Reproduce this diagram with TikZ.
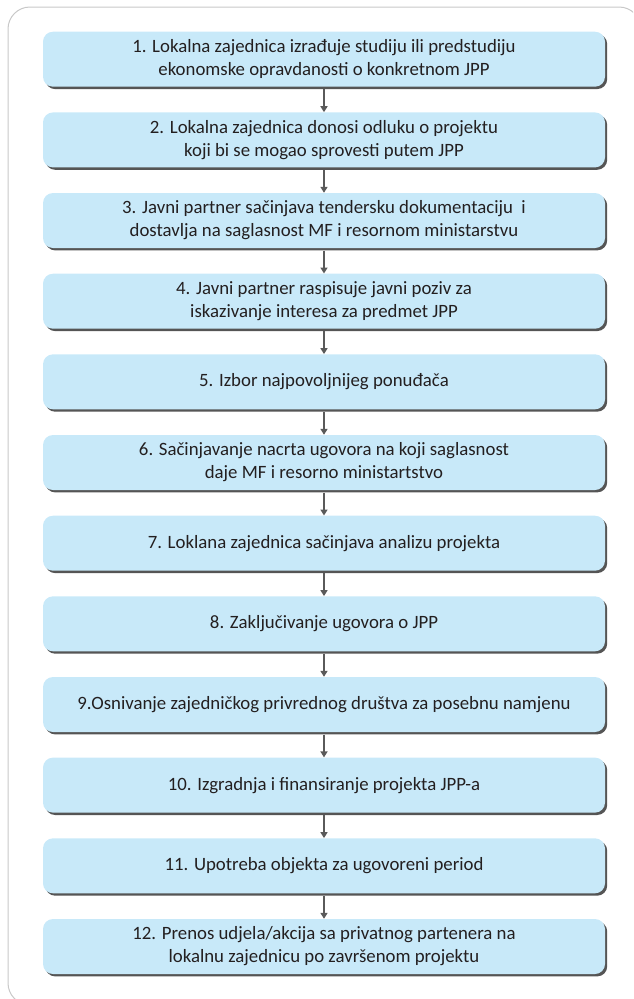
\documentclass[tikz,border=0pt]{standalone}
\usepackage{fontspec}
\setmainfont{Carlito}
\usetikzlibrary{arrows.meta,shadows}
\definecolor{boxfill}{RGB}{200,233,249}
\definecolor{shadowgray}{RGB}{85,85,85}
\definecolor{arrowgray}{RGB}{90,90,90}
\definecolor{txt}{RGB}{35,31,32}
\definecolor{framegray}{RGB}{200,200,200}
\tikzset{
  stepbox/.style={draw=none, fill=boxfill, rounded corners=10pt,
    minimum width=562pt, minimum height=55pt, inner sep=0pt,
    align=center, text=txt, font=\fontsize{18.8}{23}\selectfont,
    drop shadow={shadow xshift=2.2pt, shadow yshift=-2.4pt, fill=shadowgray, opacity=1}},
  flow/.style={draw=arrowgray, line width=2pt, -{Triangle[width=7pt,length=6pt]}}
}
\begin{document}
\begin{tikzpicture}[x=1pt,y=-1pt]
\useasboundingbox (0,0) rectangle (633,999);
\begin{scope}
\clip (0,0) rectangle (633,999);
\draw[framegray, line width=1pt, rounded corners=22pt] (8,7) rectangle (641,1005);
\end{scope}
\node[stepbox] (b1) at (324,59.2) {1. Lokalna zajednica izrađuje studiju ili predstudiju\\ekonomske opravdanosti o konkretnom JPP};
\node[stepbox] (b2) at (324,139.9) {2. Lokalna zajednica donosi odluku o projektu\\koji bi se mogao sprovesti putem JPP};
\node[stepbox] (b3) at (324,220.5) {3. Javni partner sačinjava tendersku dokumentaciju\ \ i\\dostavlja na saglasnost MF i resornom ministarstvu};
\node[stepbox] (b4) at (324,301.2) {4. Javni partner raspisuje javni poziv za\\iskazivanje interesa za predmet JPP};
\node[stepbox] (b5) at (324,381.8) {5. Izbor najpovoljnijeg ponuđača};
\node[stepbox] (b6) at (324,462.5) {6. Sačinjavanje nacrta ugovora na koji saglasnost\\daje MF i resorno ministartstvo};
\node[stepbox] (b7) at (324,543.2) {7. Loklana zajednica sačinjava analizu projekta};
\node[stepbox] (b8) at (324,623.8) {8. Zaključivanje ugovora o JPP};
\node[stepbox] (b9) at (324,704.5) {9.Osnivanje zajedničkog privrednog društva za posebnu namjenu};
\node[stepbox] (b10) at (324,785.1) {10. Izgradnja i finansiranje projekta JPP-a};
\node[stepbox] (b11) at (324,865.8) {11. Upotreba objekta za ugovoreni period};
\node[stepbox] (b12) at (324,946.5) {12. Prenos udjela/akcija sa privatnog partenera na\\lokalnu zajednicu po završenom projektu};
\foreach \a/\b in {b1/b2,b2/b3,b3/b4,b4/b5,b5/b6,b6/b7,b7/b8,b8/b9,b9/b10,b10/b11,b11/b12}
  \draw[flow] ([yshift=-2.4pt]\a.south) -- (\b.north);
\end{tikzpicture}
\end{document}
